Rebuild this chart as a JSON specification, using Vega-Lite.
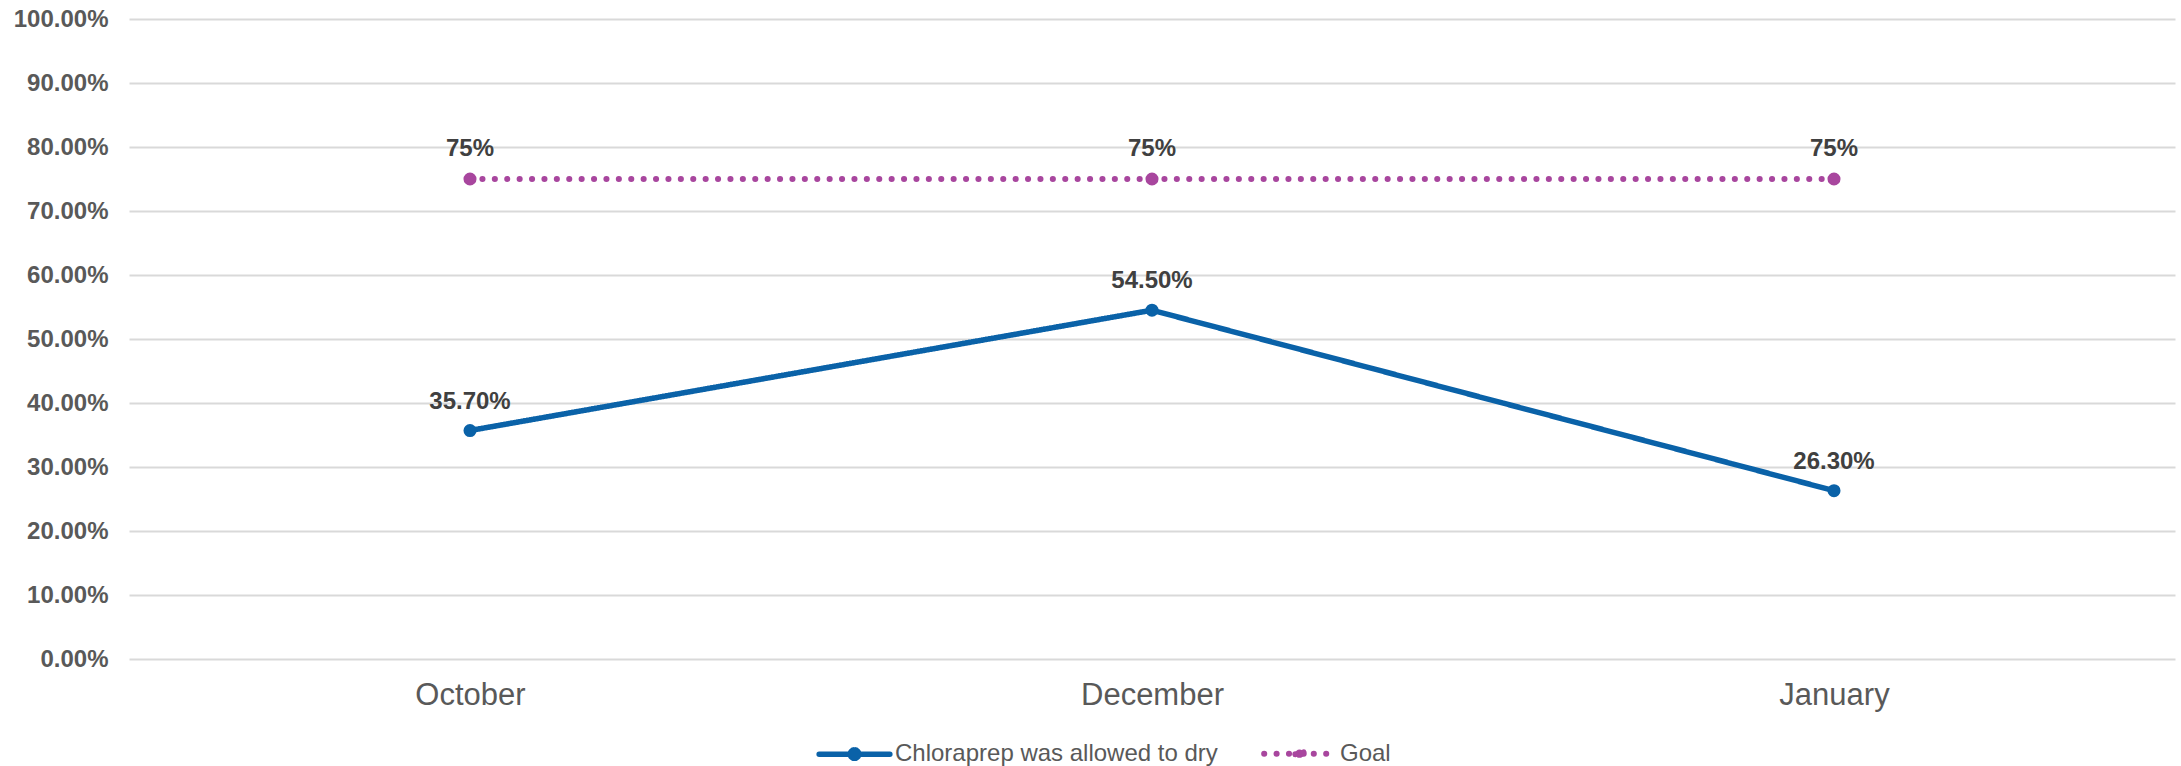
{
  "$schema": "https://vega.github.io/schema/vega-lite/v6.json",
  "autosize": {"type": "none"},
  "width": 2046,
  "height": 640,
  "padding": {"left": 129, "top": 19, "right": 6, "bottom": 107},
  "background": "white",
  "data": {
    "values": [
      {"month": "October", "series": "Chloraprep was allowed to dry", "value": 0.357},
      {"month": "December", "series": "Chloraprep was allowed to dry", "value": 0.545},
      {"month": "January", "series": "Chloraprep was allowed to dry", "value": 0.263},
      {"month": "October", "series": "Goal", "value": 0.75},
      {"month": "December", "series": "Goal", "value": 0.75},
      {"month": "January", "series": "Goal", "value": 0.75}
    ]
  },
  "encoding": {
    "x": {
      "field": "month",
      "type": "ordinal",
      "sort": ["October", "December", "January"],
      "scale": {"type": "point", "padding": 0.5},
      "axis": {
        "title": null,
        "labelAngle": 0,
        "labelFontSize": 31,
        "labelColor": "#595959",
        "labelPadding": 21,
        "domain": false,
        "ticks": false,
        "grid": false
      }
    },
    "y": {
      "field": "value",
      "type": "quantitative",
      "scale": {"domain": [0, 1], "nice": false},
      "axis": {
        "title": null,
        "values": [0, 0.1, 0.2, 0.3, 0.4, 0.5, 0.6, 0.7, 0.8, 0.9, 1],
        "format": ".2%",
        "labelFontSize": 24,
        "labelFontWeight": "bold",
        "labelColor": "#595959",
        "labelPadding": 21,
        "domain": false,
        "ticks": false,
        "grid": true,
        "gridColor": "#D9D9D9",
        "gridWidth": 2
      }
    }
  },
  "layer": [
    {
      "mark": {"type": "line", "strokeCap": "round"},
      "encoding": {
        "color": {
          "field": "series",
          "type": "nominal",
          "scale": {"domain": ["Chloraprep was allowed to dry", "Goal"], "range": ["#0A62A8", "#A8469E"]},
          "legend": {
            "title": null,
            "orient": "none",
            "legendX": 687,
            "legendY": 696,
            "direction": "horizontal",
            "labelFontSize": 24,
            "labelColor": "#595959",
            "labelLimit": 0,
            "labelOffset": 2,
            "columnPadding": 34,
            "symbolType": "M-1,0L1,0M0.12,0A0.12,0.12,0,1,1,-0.12,0A0.12,0.12,0,1,1,0.12,0M0.05,0A0.05,0.05,0,1,1,-0.05,0A0.05,0.05,0,1,1,0.05,0",
            "symbolSize": 5000,
            "symbolStrokeWidth": 5,
            "encode": {"symbols": {"update": {"strokeCap": {"value": "round"}}}}
          }
        },
        "strokeDash": {
          "field": "series",
          "type": "nominal",
          "scale": {"domain": ["Chloraprep was allowed to dry", "Goal"], "range": [[1, 0], [0.1, 12.3]]},
          "legend": null
        },
        "strokeWidth": {
          "field": "series",
          "type": "nominal",
          "scale": {"domain": ["Chloraprep was allowed to dry", "Goal"], "range": [5.5, 6]},
          "legend": null
        }
      }
    },
    {
      "mark": {"type": "point", "filled": true, "opacity": 1, "size": 170, "shape": "circle"},
      "encoding": {
        "color": {"field": "series", "type": "nominal", "legend": null}
      }
    },
    {
      "transform": [{"filter": "datum.series === 'Goal'"}],
      "mark": {"type": "text", "dy": -30, "baseline": "middle", "fontSize": 24, "fontWeight": "bold", "color": "#404040"},
      "encoding": {"text": {"field": "value", "type": "quantitative", "format": ".0%"}}
    },
    {
      "transform": [{"filter": "datum.series !== 'Goal'"}],
      "mark": {"type": "text", "dy": -29, "baseline": "middle", "fontSize": 24, "fontWeight": "bold", "color": "#404040"},
      "encoding": {"text": {"field": "value", "type": "quantitative", "format": ".2%"}}
    }
  ],
  "config": {
    "font": "Liberation Sans",
    "view": {"stroke": null}
  }
}
